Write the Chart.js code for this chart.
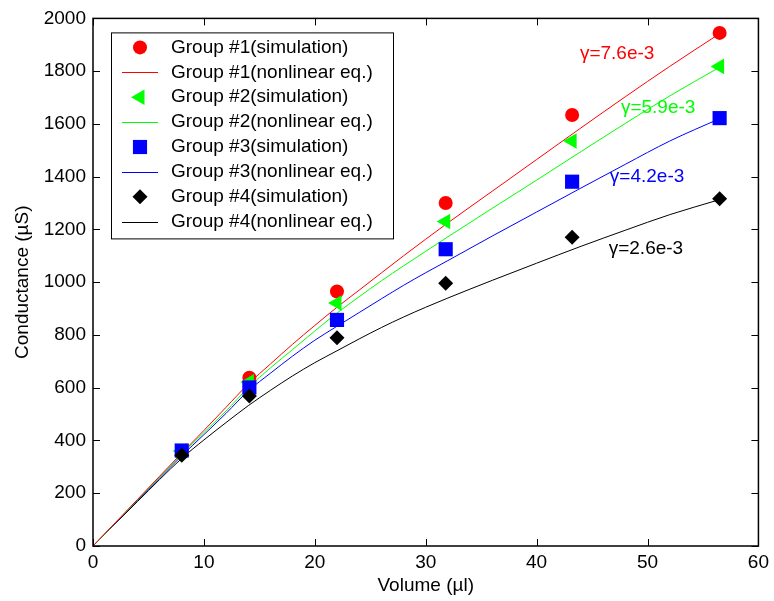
<!DOCTYPE html>
<html>
<head>
<meta charset="utf-8">
<script src="https://cdn.jsdelivr.net/npm/chart.js@4/dist/chart.umd.min.js"></script>
<style>
  body { margin: 0; background: #fff; }
  #wrap { width: 774px; height: 601px; }
</style>
</head>
<body>
<div id="wrap"><canvas id="myChart" width="774" height="601"></canvas></div>
<script>
// simulated points (same volumes for every group)
const simX = [8, 14.1, 22, 31.8, 43.2, 56.5];
const sim1 = [358, 638, 965, 1300, 1634, 1945];
const sim2 = [360, 622, 921, 1230, 1535, 1818];
const sim3 = [362, 601, 857, 1125, 1381, 1622];
const sim4 = [344, 569, 789, 996, 1170, 1316];

// nonlinear equation curves
const eqX = [0, 4, 8, 10, 12, 14, 16, 18, 20, 22, 24, 26, 28, 30, 32, 36, 40, 44, 48, 52, 56.5];
const eq1 = [0, 176, 352, 438, 526, 614, 690, 765, 836, 905, 970, 1035, 1100, 1163, 1225, 1345, 1465, 1585, 1703, 1818, 1942];
const eq2 = [0, 174, 347, 430, 512, 600, 675, 745, 815, 883, 945, 1005, 1062, 1117, 1172, 1280, 1387, 1495, 1602, 1706, 1815];
const eq3 = [0, 172, 342, 422, 503, 588, 655, 720, 780, 833, 885, 937, 988, 1036, 1082, 1175, 1266, 1357, 1447, 1535, 1620];
const eq4 = [0, 168, 332, 402, 468, 532, 590, 645, 695, 740, 785, 828, 868, 905, 940, 1007, 1072, 1136, 1197, 1256, 1313];

const groupColors = ["#ff0000", "#00ff00", "#0000ff", "#000000"];
const groupNames = ["Group #1", "Group #2", "Group #3", "Group #4"];

// gamma notes next to each curve
const noteText = ["γ=7.6e-3", "γ=5.9e-3", "γ=4.2e-3", "γ=2.6e-3"];
const noteX = [43.9, 47.6, 46.6, 46.5];
const noteY = [1866, 1663, 1398, 1126];

const xTicks = [0, 10, 20, 30, 40, 50, 60];
const yTicks = [0, 200, 400, 600, 800, 1000, 1200, 1400, 1600, 1800, 2000];

const FONT = '"Liberation Sans", Arial, sans-serif';

const toPts = (xs, ys) => xs.map((x, i) => ({ x: x, y: ys[i] }));

const markerStyle = [
    { pointStyle: "circle", radius: 7, rotation: 0 },
    { pointStyle: "triangle", radius: 9, rotation: -90 },
    { pointStyle: "rect", radius: 10, rotation: 0 },
    { pointStyle: "rectRot", radius: 7.5, rotation: 0 }
];

const sims = [sim1, sim2, sim3, sim4];
const eqs = [eq1, eq2, eq3, eq4];
const datasets = [];
for (let g = 0; g < 4; g++) {
    datasets.push({
        label: groupNames[g] + "(simulation)",
        data: toPts(simX, sims[g]),
        showLine: false,
        backgroundColor: groupColors[g],
        borderColor: groupColors[g],
        borderWidth: 0,
        pointStyle: markerStyle[g].pointStyle,
        pointRadius: markerStyle[g].radius,
        pointRotation: markerStyle[g].rotation,
        pointHoverRadius: markerStyle[g].radius,
        clip: false,
        order: -g   // later groups on top, like the original
    });
    datasets.push({
        label: groupNames[g] + "(nonlinear eq.)",
        data: toPts(eqX, eqs[g]),
        showLine: true,
        borderColor: groupColors[g],
        backgroundColor: groupColors[g],
        borderWidth: 1,
        pointRadius: 0,
        cubicInterpolationMode: "monotone",
        order: 1
    });
}

// frame with inward ticks on all four sides
const framePlugin = {
    id: "frame",
    afterDatasetsDraw(chart) {
        const ctx = chart.ctx;
        const a = chart.chartArea;
        const xs = chart.scales.x, ys = chart.scales.y;
        const len = 7;
        ctx.save();
        ctx.strokeStyle = "#000";
        ctx.lineWidth = 1;
        ctx.beginPath();
        xs.ticks.forEach(t => {
            const px = Math.round(xs.getPixelForValue(t.value)) + 0.5;
            ctx.moveTo(px, a.bottom); ctx.lineTo(px, a.bottom - len);
            ctx.moveTo(px, a.top); ctx.lineTo(px, a.top + len);
        });
        ys.ticks.forEach(t => {
            const py = Math.round(ys.getPixelForValue(t.value)) + 0.5;
            ctx.moveTo(a.left, py); ctx.lineTo(a.left + len, py);
            ctx.moveTo(a.right, py); ctx.lineTo(a.right - len, py);
        });
        ctx.stroke();
        ctx.lineWidth = 1.5;
        ctx.strokeRect(a.left, a.top, a.right - a.left, a.bottom - a.top);

        // gamma notes
        ctx.font = "19px " + FONT;
        ctx.textAlign = "left";
        ctx.textBaseline = "middle";
        noteText.forEach((txt, i) => {
            ctx.fillStyle = groupColors[i];
            ctx.fillText(txt, xs.getPixelForValue(noteX[i]), ys.getPixelForValue(noteY[i]));
        });
        ctx.restore();
    }
};

// matlab-like legend box in the upper left corner
const legendPlugin = {
    id: "boxLegend",
    afterDraw(chart) {
        const ctx = chart.ctx;
        const a = chart.chartArea;
        const boxX = a.left + 18, boxY = a.top + 14, boxW = 282, boxH = 206;
        const rowH = 24.9;
        ctx.save();
        ctx.fillStyle = "#fff";
        ctx.fillRect(boxX, boxY, boxW, boxH);
        ctx.strokeStyle = "#000";
        ctx.lineWidth = 1;
        ctx.strokeRect(boxX + 0.5, boxY + 0.5, boxW, boxH);
        ctx.font = "19px " + FONT;
        ctx.textBaseline = "middle";
        chart.data.datasets.forEach((ds, i) => {
            const cy = boxY + 15 + i * rowH;
            const cx = boxX + 29;
            if (ds.showLine === false) {
                ctx.fillStyle = ds.backgroundColor;
                ctx.strokeStyle = ds.borderColor;
                Chart.helpers.drawPoint(ctx, {
                    pointStyle: ds.pointStyle,
                    radius: ds.pointRadius,
                    rotation: ds.pointRotation,
                    borderWidth: 0
                }, cx, cy);
            } else {
                ctx.strokeStyle = ds.borderColor;
                ctx.lineWidth = 1;
                ctx.beginPath();
                ctx.moveTo(boxX + 11, Math.round(cy) + 0.5);
                ctx.lineTo(boxX + 47, Math.round(cy) + 0.5);
                ctx.stroke();
            }
            ctx.fillStyle = "#000";
            ctx.fillText(ds.label, boxX + 60, cy);
        });
        ctx.restore();
    }
};

new Chart("myChart", {
    type: "scatter",
    data: { datasets: datasets },
    options: {
        responsive: false,
        animation: false,
        layout: { padding: { top: 17, right: 7, left: 0, bottom: 0 } },
        plugins: {
            legend: { display: false },
            tooltip: { enabled: false }
        },
        scales: {
            x: {
                type: "linear",
                min: 0,
                max: 60,
                afterBuildTicks: s => { s.ticks = xTicks.map(v => ({ value: v })); },
                afterFit: s => { s.height = 55; },
                grid: { display: false, drawTicks: false },
                border: { display: false },
                ticks: {
                    color: "#000", padding: 5,
                    font: { family: FONT, size: 19 },
                    callback: v => String(v)
                },
                title: {
                    display: true,
                    text: "Volume (µl)",
                    color: "#000",
                    font: { family: FONT, size: 19 },
                    padding: { top: 0, bottom: 4 }
                }
            },
            y: {
                type: "linear",
                min: 0,
                max: 2000,
                afterBuildTicks: s => { s.ticks = yTicks.map(v => ({ value: v })); },
                afterFit: s => { s.width = 93; },
                grid: { display: false, drawTicks: false },
                border: { display: false },
                ticks: {
                    color: "#000", padding: 7,
                    font: { family: FONT, size: 19 },
                    callback: v => String(v)
                },
                title: {
                    display: true,
                    text: "Conductance (µS)",
                    color: "#000",
                    font: { family: FONT, size: 19 },
                    padding: { top: 11, bottom: 0 }
                }
            }
        }
    },
    plugins: [framePlugin, legendPlugin]
});
</script>
</body>
</html>
